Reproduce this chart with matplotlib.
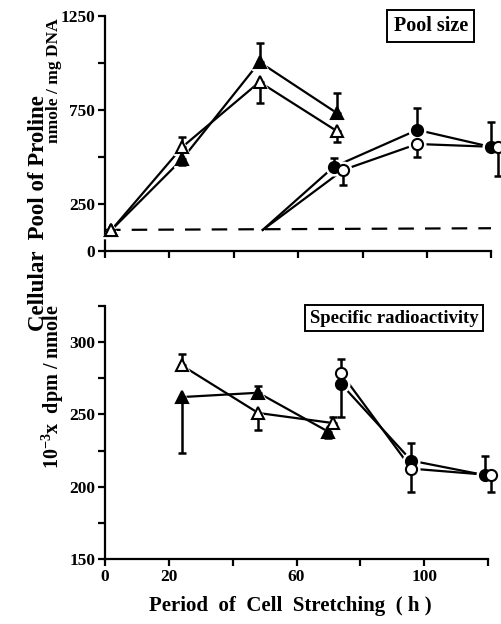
import matplotlib
matplotlib.use("Agg")
import matplotlib.pyplot as plt

plt.rcParams['font.family'] = ['Liberation Serif', 'DejaVu Serif']
plt.rcParams['font.weight'] = 'bold'
plt.rcParams['mathtext.fontset'] = 'custom'
plt.rcParams['mathtext.rm'] = 'Liberation Serif:bold'
plt.rcParams['mathtext.default'] = 'rm'

# ---- pool size (nmole / mg DNA) ----
pool_tri_f_x = [2, 24, 48, 72]
pool_tri_f_y = [112, 489, 1005, 734]
pool_tri_f_up = [0, 0, 101, 106]
pool_tri_f_dn = [0, 32, 0, 0]

pool_tri_o_x = [2, 24, 48, 72]
pool_tri_o_y = [112, 553, 899, 638]
pool_tri_o_up = [0, 53, 0, 0]
pool_tri_o_dn = [0, 0, 112, 58]

pool_cir_f_x = [49, 71, 97, 120]
pool_cir_f_y = [112, 447, 644, 553]
pool_cir_f_up = [0, 48, 117, 133]
pool_cir_f_dn = [0, 0, 0, 0]

pool_cir_o_x = [49, 74, 97, 122]
pool_cir_o_y = [112, 431, 569, 553]
pool_cir_o_up = [0, 0, 0, 0]
pool_cir_o_dn = [0, 80, 69, 154]

basal_x = [0, 120]
basal_y = [112, 121]

# ---- specific radioactivity (10^-3 x dpm / nmole) ----
sa_tri_f_x = [24, 48, 70]
sa_tri_f_y = [262, 265, 238]
sa_tri_f_up = [0, 5, 0]
sa_tri_f_dn = [39, 0, 4]

sa_tri_o_x = [24, 48, 71.5]
sa_tri_o_y = [284, 251, 244]
sa_tri_o_up = [8, 0, 4]
sa_tri_o_dn = [0, 12, 0]

sa_cir_f_x = [74, 96, 119]
sa_cir_f_y = [271, 218, 208]
sa_cir_f_up = [0, 12, 13]
sa_cir_f_dn = [23, 0, 0]

sa_cir_o_x = [74, 96, 121]
sa_cir_o_y = [278.5, 212.5, 208]
sa_cir_o_up = [10, 0, 0]
sa_cir_o_dn = [0, 16, 12]


def series(ax, x, y, up, dn, marker, filled, skip_first=False):
    ax.plot(x, y, color='black', lw=1.6, zorder=2, clip_on=False)
    mx = x[1:] if skip_first else x
    my = y[1:] if skip_first else y
    mu = up[1:] if skip_first else up
    md = dn[1:] if skip_first else dn
    # white halo so lines stop short of the symbols
    ax.plot(mx, my, ls='none', marker=marker, ms=12, mfc='white', mec='white',
            zorder=3, clip_on=False)
    ax.errorbar(mx, my, yerr=[md, mu], fmt='none', ecolor='black', elinewidth=1.8,
                capsize=3, capthick=1.8, zorder=3.5, clip_on=False)
    ax.plot(mx, my, ls='none', marker=marker, ms=8,
            mfc='black' if filled else 'white', mec='black', mew=1.5,
            zorder=4, clip_on=False)


def style(ax):
    for s in ['top', 'right']:
        ax.spines[s].set_visible(False)
    for s in ['left', 'bottom']:
        ax.spines[s].set_linewidth(1.6)
    ax.tick_params(which='both', direction='out', width=1.6, labelsize=12.5, pad=2)
    ax.tick_params(which='major', length=5)
    ax.tick_params(which='minor', length=5)


fig = plt.figure(figsize=(5.01, 6.24), dpi=100)

ax1 = fig.add_axes([0.2096, 0.5978, 0.771, 0.3766])
ax1.plot(basal_x, basal_y, color='black', lw=1.6, dashes=(7, 5), zorder=1)
series(ax1, pool_tri_f_x, pool_tri_f_y, pool_tri_f_up, pool_tri_f_dn, '^', True)
series(ax1, pool_tri_o_x, pool_tri_o_y, pool_tri_o_up, pool_tri_o_dn, '^', False)
series(ax1, pool_cir_f_x, pool_cir_f_y, pool_cir_f_up, pool_cir_f_dn, 'o', True, skip_first=True)
series(ax1, pool_cir_o_x, pool_cir_o_y, pool_cir_o_up, pool_cir_o_dn, 'o', False, skip_first=True)
ax1.set_xlim(0, 120)
ax1.set_ylim(0, 1250)
ax1.set_yticks([0, 250, 750, 1250])
ax1.set_yticks([500, 1000], minor=True)
ax1.set_xticks(range(0, 121, 20))
ax1.set_xticklabels([])
style(ax1)
ax1.text(0.843, 0.958, 'Pool size', transform=ax1.transAxes, ha='center', va='center',
         fontsize=14.5, bbox=dict(boxstyle='square,pad=0.3', fc='white', ec='black', lw=1.4))

ax2 = fig.add_axes([0.2096, 0.1042, 0.7645, 0.4054])
series(ax2, sa_tri_f_x, sa_tri_f_y, sa_tri_f_up, sa_tri_f_dn, '^', True)
series(ax2, sa_tri_o_x, sa_tri_o_y, sa_tri_o_up, sa_tri_o_dn, '^', False)
series(ax2, sa_cir_f_x, sa_cir_f_y, sa_cir_f_up, sa_cir_f_dn, 'o', True)
series(ax2, sa_cir_o_x, sa_cir_o_y, sa_cir_o_up, sa_cir_o_dn, 'o', False)
ax2.set_xlim(0, 120)
ax2.set_ylim(150, 325)
ax2.set_yticks([150, 200, 250, 300])
ax2.set_yticks([175, 225, 275, 325], minor=True)
ax2.set_xticks([0, 20, 60, 100])
ax2.set_xticks([40, 80, 120], minor=True)
style(ax2)
ax2.text(0.755, 0.952, 'Specific radioactivity', transform=ax2.transAxes, ha='center',
         va='center', fontsize=13.5,
         bbox=dict(boxstyle='square,pad=0.25', fc='white', ec='black', lw=1.4))

fig.text(0.076, 0.659, 'Cellular  Pool of Proline', rotation=90, ha='center', va='center',
         fontsize=16.5)
fig.text(0.108, 0.871, 'nmole / mg DNA', rotation=90, ha='center', va='center', fontsize=12.5)
fig.text(0.106, 0.38, '10$^{-3}$x  dpm / nmole', rotation=90, ha='center', va='center',
         fontsize=14.5)
fig.text(0.58, 0.029, 'Period  of  Cell  Stretching  ( h )', ha='center', va='center',
         fontsize=15)

fig.savefig('out.png', dpi=100)
